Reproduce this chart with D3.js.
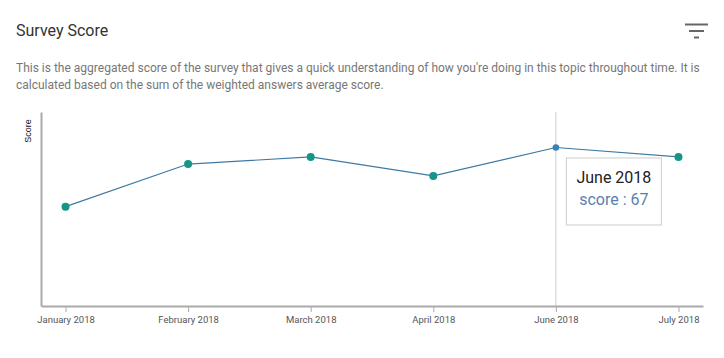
<!DOCTYPE html>
<html><head><meta charset="utf-8">
<script src="https://cdn.jsdelivr.net/npm/d3@7"></script>
<style>
body{margin:0;background:#fff;font-family:Roboto,"Open Sans",sans-serif;}
svg{display:block;}
</style></head>
<body>
<svg id="c" width="724" height="358"></svg>
<script>
const months = ["January 2018","February 2018","March 2018","April 2018","June 2018","July 2018"];
const scores = [42, 60, 63, 55, 67, 63];
const yDomain = [0, 82];
const highlighted = "June 2018";

const svg = d3.select("#c");
const margin = {left:41, right:21, top:112, bottom:52};
const W = 724, H = 358;

svg.append("text").attr("x",16).attr("y",36).attr("font-size",16).attr("fill","#333")
  .attr("font-family","Roboto").text("Survey Score");

// filter icon
const icon = [[685,708,24.5],[689,704,31],[694,699,37.5]];
svg.append("g").selectAll("line").data(icon).join("line")
  .attr("x1",d=>d[0]).attr("x2",d=>d[1]).attr("y1",d=>d[2]).attr("y2",d=>d[2])
  .attr("stroke","#666").attr("stroke-width",2);

const desc = ["This is the aggregated score of the survey that gives a quick understanding of how you're doing in this topic throughout time. It is",
              "calculated based on the sum of the weighted answers average score."];
svg.append("g").selectAll("text").data(desc).join("text")
  .attr("x",16).attr("y",(d,i)=>72+i*17).attr("font-size",12).attr("fill","#777")
  .attr("font-family","Roboto").text(d=>d);

const x = d3.scalePoint().domain(months).range([margin.left, W - margin.right]).padding(0.2);
const y = d3.scaleLinear().domain(yDomain).range([H - margin.bottom, margin.top]);

const data = months.map((m,i)=>({m, v:scores[i]}));

// hover line
svg.append("line").attr("x1",x(highlighted)).attr("x2",x(highlighted))
  .attr("y1",margin.top).attr("y2",H-margin.bottom).attr("stroke","#ccc").attr("stroke-width",1);

// axes
const xAxis = svg.append("g").attr("transform",`translate(0,${H-margin.bottom})`)
  .call(d3.axisBottom(x).tickSizeOuter(0).tickSizeInner(6).tickPadding(4));
xAxis.select(".domain").attr("stroke","#aaa").attr("stroke-width",2);
xAxis.selectAll(".tick line").attr("stroke","#aaa");
xAxis.selectAll(".tick text").attr("fill","#555").attr("font-size",9.5).attr("font-family","Roboto");

const yAxis = svg.append("g").attr("transform",`translate(${margin.left},0)`)
  .call(d3.axisLeft(y).ticks(0).tickSizeOuter(0));
yAxis.select(".domain").attr("stroke","#aaa").attr("stroke-width",2);

svg.append("text").attr("transform",`translate(31,131) rotate(-90)`).attr("text-anchor","middle")
  .attr("font-size",9).attr("font-family","Liberation Sans, Arial").attr("fill","#111").text("Score");

// line
svg.append("path").datum(data).attr("fill","none").attr("stroke","#3d7aa3").attr("stroke-width",1.2)
  .attr("d", d3.line().x(d=>x(d.m)).y(d=>y(d.v)));

svg.append("g").selectAll("circle").data(data).join("circle")
  .attr("cx",d=>x(d.m)).attr("cy",d=>y(d.v))
  .attr("r",d=>d.m===highlighted?3.3:4)
  .attr("fill",d=>d.m===highlighted?"#3a82b4":"#159488");

// tooltip
const hd = data.find(d=>d.m===highlighted);
const tx = x(highlighted)+10, ty = y(hd.v)+10;
const tg = svg.append("g").attr("transform",`translate(${tx},${ty})`);
tg.append("rect").attr("x",0.5).attr("y",0.5).attr("width",95).attr("height",67)
  .attr("fill","#fff").attr("stroke","#ccc");
tg.append("text").attr("x",48).attr("y",26).attr("text-anchor","middle").attr("font-size",16)
  .attr("font-family","Roboto").attr("fill","#222").text(hd.m);
tg.append("text").attr("x",48).attr("y",48).attr("text-anchor","middle").attr("font-size",16)
  .attr("font-family","Roboto").attr("fill","#5b7fae").text("score : " + hd.v);
</script>
</body></html>
